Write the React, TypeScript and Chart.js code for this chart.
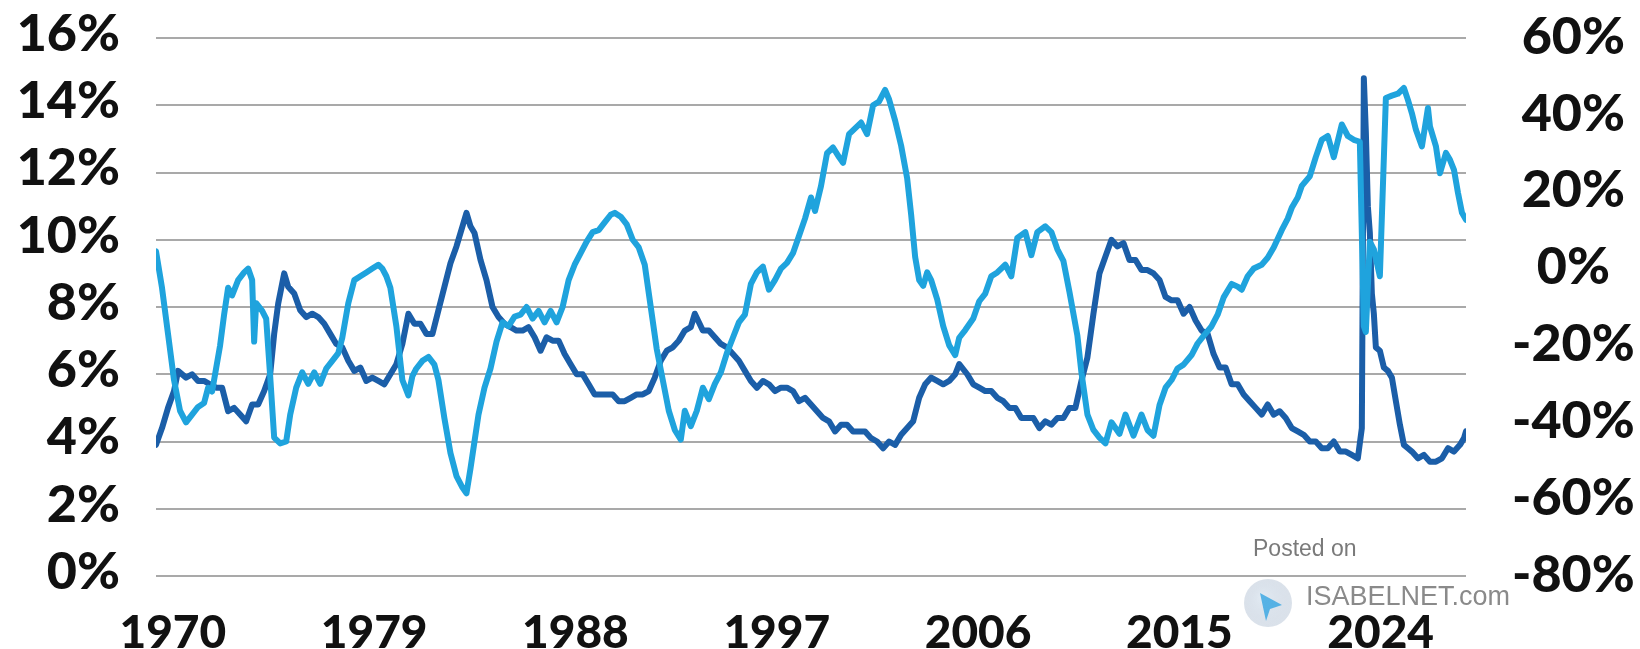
import { useEffect, useRef } from 'react';
import { Chart, registerables } from 'chart.js';

Chart.register(...registerables);

// US unemployment rate (left axis, %)
const UNEMP_DATES = [
  '1970-01','1970-04','1970-07','1970-10','1970-12','1971-04','1971-07','1971-10',
  '1972-01','1972-04','1972-07','1972-10','1973-01','1973-04','1973-07','1973-10',
  '1974-01','1974-04','1974-07','1974-10','1974-12','1975-02','1975-05','1975-07','1975-10',
  '1976-01','1976-04','1976-07','1976-10','1977-01','1977-04','1977-07','1977-10',
  '1978-01','1978-04','1978-07','1978-10','1979-01','1979-04','1979-07','1979-10',
  '1980-01','1980-04','1980-07','1980-10','1981-01','1981-04','1981-07','1981-10',
  '1982-01','1982-04','1982-07','1982-10','1982-12','1983-02','1983-04','1983-07','1983-10',
  '1984-01','1984-04','1984-07','1984-10','1985-01','1985-04','1985-07','1985-10',
  '1986-01','1986-04','1986-07','1986-10','1987-01','1987-04','1987-07','1987-10',
  '1988-01','1988-04','1988-07','1988-10','1989-01','1989-04','1989-07','1989-10',
  '1990-01','1990-04','1990-07','1990-10','1991-01','1991-04','1991-07','1991-10',
  '1992-01','1992-04','1992-06','1992-10','1993-01','1993-04','1993-07','1993-10',
  '1994-01','1994-04','1994-07','1994-10','1995-01','1995-04','1995-07','1995-10',
  '1996-01','1996-04','1996-07','1996-10','1997-01','1997-04','1997-07','1997-10',
  '1998-01','1998-04','1998-07','1998-10','1999-01','1999-04','1999-07','1999-10',
  '2000-01','2000-04','2000-07','2000-10','2001-01','2001-04','2001-07','2001-10',
  '2002-01','2002-04','2002-07','2002-10','2003-01','2003-04','2003-06','2003-10',
  '2004-01','2004-04','2004-07','2004-10','2005-01','2005-04','2005-07','2005-10',
  '2006-01','2006-04','2006-07','2006-10','2007-01','2007-04','2007-07','2007-10',
  '2008-01','2008-04','2008-07','2008-10','2009-01','2009-04','2009-07','2009-10',
  '2010-01','2010-04','2010-07','2010-10','2011-01','2011-04','2011-07','2011-10',
  '2012-01','2012-04','2012-07','2012-10','2013-01','2013-04','2013-07','2013-10',
  '2014-01','2014-04','2014-07','2014-10','2015-01','2015-04','2015-07','2015-10',
  '2016-01','2016-04','2016-07','2016-10','2017-01','2017-04','2017-07','2017-10',
  '2018-01','2018-04','2018-07','2018-10','2019-01','2019-04','2019-07','2019-10',
  '2020-01','2020-03','2020-04','2020-05','2020-06','2020-07','2020-08','2020-09','2020-10','2020-12',
  '2021-02','2021-04','2021-06','2021-08','2021-10','2021-12',
  '2022-02','2022-04','2022-07','2022-10','2023-01','2023-04','2023-07','2023-10',
  '2024-01','2024-04','2024-06','2024-07',
];
const UNEMP_VALUES = [
  3.9, 4.4, 5.0, 5.5, 6.1, 5.9, 6.0, 5.8,
  5.8, 5.7, 5.6, 5.6, 4.9, 5.0, 4.8, 4.6,
  5.1, 5.1, 5.5, 6.0, 7.2, 8.1, 9.0, 8.6, 8.4,
  7.9, 7.7, 7.8, 7.7, 7.5, 7.2, 6.9, 6.8,
  6.4, 6.1, 6.2, 5.8, 5.9, 5.8, 5.7, 6.0,
  6.3, 6.9, 7.8, 7.5, 7.5, 7.2, 7.2, 7.9,
  8.6, 9.3, 9.8, 10.4, 10.8, 10.4, 10.2, 9.4, 8.8,
  8.0, 7.7, 7.5, 7.4, 7.3, 7.3, 7.4, 7.1,
  6.7, 7.1, 7.0, 7.0, 6.6, 6.3, 6.0, 6.0,
  5.7, 5.4, 5.4, 5.4, 5.4, 5.2, 5.2, 5.3,
  5.4, 5.4, 5.5, 5.9, 6.4, 6.7, 6.8, 7.0,
  7.3, 7.4, 7.8, 7.3, 7.3, 7.1, 6.9, 6.8,
  6.6, 6.4, 6.1, 5.8, 5.6, 5.8, 5.7, 5.5,
  5.6, 5.6, 5.5, 5.2, 5.3, 5.1, 4.9, 4.7,
  4.6, 4.3, 4.5, 4.5, 4.3, 4.3, 4.3, 4.1,
  4.0, 3.8, 4.0, 3.9, 4.2, 4.4, 4.6, 5.3,
  5.7, 5.9, 5.8, 5.7, 5.8, 6.0, 6.3, 6.0,
  5.7, 5.6, 5.5, 5.5, 5.3, 5.2, 5.0, 5.0,
  4.7, 4.7, 4.7, 4.4, 4.6, 4.5, 4.7, 4.7,
  5.0, 5.0, 5.8, 6.5, 7.8, 9.0, 9.5, 10.0,
  9.8, 9.9, 9.4, 9.4, 9.1, 9.1, 9.0, 8.8,
  8.3, 8.2, 8.2, 7.8, 8.0, 7.6, 7.3, 7.2,
  6.6, 6.2, 6.2, 5.7, 5.7, 5.4, 5.2, 5.0,
  4.8, 5.1, 4.8, 4.9, 4.7, 4.4, 4.3, 4.2,
  4.0, 4.0, 3.8, 3.8, 4.0, 3.7, 3.7, 3.6,
  3.5, 4.4, 14.8, 13.2, 11.0, 10.2, 8.4, 7.8, 6.8, 6.7,
  6.2, 6.1, 5.9, 5.2, 4.5, 3.9,
  3.8, 3.7, 3.5, 3.6, 3.4, 3.4, 3.5, 3.8,
  3.7, 3.9, 4.1, 4.3,
];

// Labor differential: jobs plentiful minus jobs hard to get (right axis, %)
const LABOR_DATES = [
  '1970-01','1970-04','1970-07','1970-10','1971-01','1971-04','1971-07','1971-10',
  '1972-01','1972-03','1972-05','1972-07','1972-09','1972-11','1973-01','1973-03','1973-06','1973-09','1973-11',
  '1974-01','1974-02','1974-03','1974-06','1974-08','1974-10','1974-12','1975-03','1975-06','1975-08','1975-11',
  '1976-02','1976-05','1976-08','1976-11','1977-02','1977-05','1977-08','1977-10',
  '1978-01','1978-04','1978-07','1978-10','1979-01','1979-04','1979-06','1979-08','1979-10',
  '1980-01','1980-04','1980-07','1980-09','1980-11','1981-02','1981-05','1981-08','1981-10',
  '1982-01','1982-04','1982-07','1982-10','1982-12','1983-02','1983-04','1983-06','1983-09','1983-12',
  '1984-03','1984-06','1984-09','1984-12','1985-03','1985-06','1985-09','1985-12',
  '1986-03','1986-06','1986-09','1986-12','1987-03','1987-06','1987-09','1987-12',
  '1988-03','1988-06','1988-09','1988-12','1989-02','1989-05','1989-08','1989-11',
  '1990-02','1990-05','1990-08','1990-11','1991-02','1991-05','1991-08','1991-11',
  '1992-01','1992-04','1992-07','1992-10','1993-01','1993-04','1993-07','1993-10',
  '1994-01','1994-04','1994-07','1994-10','1995-01','1995-04','1995-07','1995-10',
  '1996-01','1996-04','1996-07','1996-10','1997-01','1997-04','1997-06','1997-09','1997-12',
  '1998-03','1998-06','1998-08','1998-11','1999-02','1999-05','1999-08','1999-11',
  '2000-02','2000-05','2000-07','2000-10','2001-01','2001-04','2001-06','2001-08','2001-10','2001-12',
  '2002-02','2002-04','2002-07','2002-10','2003-01','2003-04','2003-06','2003-09',
  '2004-01','2004-04','2004-07','2004-10','2005-01','2005-05','2005-08','2005-11',
  '2006-03','2006-06','2006-09','2007-01','2007-04','2007-07','2007-10',
  '2008-01','2008-05','2008-07','2008-10','2009-01','2009-04','2009-07','2009-10',
  '2010-02','2010-05','2010-09','2011-01','2011-04','2011-07','2011-10',
  '2012-01','2012-04','2012-07','2012-10','2013-02','2013-05','2013-08','2013-12',
  '2014-03','2014-06','2014-10','2015-01','2015-03','2015-06','2015-09',
  '2016-01','2016-04','2016-07','2016-11','2017-02','2017-04','2017-07','2017-09',
  '2018-01','2018-04','2018-07','2018-10','2019-01','2019-05','2019-08','2019-11',
  '2020-02','2020-04','2020-05','2020-07','2020-09','2020-12',
  '2021-03','2021-06','2021-09','2021-12','2022-02','2022-04','2022-06','2022-09','2022-12',
  '2023-01','2023-04','2023-06','2023-09','2023-11','2024-01','2024-03','2024-05','2024-07',
];
const LABOR_VALUES = [
  4.5, -5, -17, -29, -37, -40, -38, -36,
  -35, -31, -32, -26, -20, -12, -5, -7, -3, -1, 0,
  -3, -19, -9, -11, -13, -28, -44, -45.5, -45, -38, -31,
  -27, -30, -27, -30, -26, -24, -22, -18,
  -9, -3, -2, -1, 0, 1, 0, -2, -5,
  -15, -29, -33, -28, -26, -24, -23, -25, -29,
  -39, -48, -54, -57, -58.5, -52, -45, -38, -31, -26,
  -19, -14, -15, -12.5, -12, -10, -13, -11,
  -14, -11, -14, -10, -3, 1, 4, 7,
  9.5, 10, 12, 14, 14.5, 13.5, 11.5, 7.5,
  5.5, 1, -10, -21, -29, -37, -42, -44.5,
  -37, -41, -37, -31, -34, -30, -27, -22,
  -18, -14, -12, -4, -1, 0.5, -5.5, -3,
  0, 1.5, 4, 8.5, 13, 18.5, 15, 21.5, 30,
  31.5, 29, 27.5, 35, 36.5, 38, 35, 42.5,
  43.5, 46.5, 44, 38.5, 32, 23.5, 14, 3, -3, -4.5,
  -1, -3, -8, -15, -20, -22.5, -18, -16,
  -13, -8.5, -6.5, -2, -1, 1, -2, 8,
  9.5, 3.5, 9.5, 11, 9.5, 5, 2,
  -6, -17.5, -27, -38, -42, -44, -45.5, -40,
  -43, -38, -43.5, -38, -42, -43.5, -35.5,
  -31, -29, -26, -25, -22.5, -19.5, -17.5, -15,
  -12, -7.5, -4, -4.7, -5.5, -2, 0,
  1, 2.8, 5.5, 10, 13, 15.8, 18.5, 21.5,
  24, 29, 33.5, 34.5, 29, 37.5, 34.5, 33.5,
  33, -15, -16.5, 7, 5, -2,
  44.4, 45, 45.5, 47, 43.9, 40.4, 36.1, 31.8, 41.8,
  37, 31.8, 24.8, 30.1, 28.3, 25.7, 19.7, 14.5, 12.7,
];

const X_TICK_LABELS = ['1970', '1979', '1988', '1997', '2006', '2015', '2024'];
const X_TICK_START = 1970.7;
const X_TICK_STEP = 8.375;

const LEFT_MIN = 0;
const LEFT_MAX = 16;
const LEFT_STEP = 2;
const RIGHT_MIN = -80;
const RIGHT_MAX = 60;
const RIGHT_STEP = 20;

const toYear = (d: string) => {
  const [y, m] = d.split('-').map(Number);
  return y + (m - 1) / 12;
};

const Y_FONT = { family: 'Lato', size: 52, weight: '900' as const };
const X_FONT = { family: 'Lato', size: 46, weight: '900' as const };

const watermark = {
  id: 'watermark',
  beforeDraw(chart: Chart) {
    const ctx = chart.ctx;
    ctx.save();
    // globe logo
    const cx = 1268, cy = 603, r = 24;
    const g = ctx.createRadialGradient(cx - 6, cy - 6, 2, cx, cy, r);
    g.addColorStop(0, 'rgba(200,215,230,0.55)');
    g.addColorStop(1, 'rgba(150,170,195,0.35)');
    ctx.fillStyle = g;
    ctx.beginPath();
    ctx.arc(cx, cy, r, 0, Math.PI * 2);
    ctx.fill();
    ctx.fillStyle = 'rgba(40,160,225,0.75)';
    ctx.beginPath();
    ctx.moveTo(cx - 8, cy - 10);
    ctx.lineTo(cx + 14, cy + 2);
    ctx.lineTo(cx + 2, cy + 6);
    ctx.lineTo(cx - 2, cy + 18);
    ctx.closePath();
    ctx.fill();
    ctx.fillStyle = '#7a7a7a';
    ctx.textBaseline = 'middle';
    ctx.textAlign = 'left';
    ctx.font = '23px "Liberation Sans", Arial, sans-serif';
    ctx.fillText('Posted on', 1253, 550);
    ctx.fillStyle = '#8a8a8a';
    ctx.font = '27px "Liberation Sans", Arial, sans-serif';
    ctx.fillText('ISABELNET.com', 1306, 598);
    ctx.restore();
  },
};

export default function App() {
  const canvasRef = useRef<HTMLCanvasElement | null>(null);

  useEffect(() => {
    document.body.style.margin = '0';
    const canvas = canvasRef.current;
    if (!canvas) return;

    const unemp = UNEMP_DATES.map((d, i) => ({ x: toYear(d), y: UNEMP_VALUES[i] }));
    const labor = LABOR_DATES.map((d, i) => ({ x: toYear(d), y: LABOR_VALUES[i] }));

    const fitY = (width: number) => (axis: any) => {
      axis.width = width;
      axis.paddingTop = 0;
      axis.paddingBottom = 0;
    };

    const chart = new Chart(canvas, {
      type: 'line',
      data: {
        datasets: [
          {
            label: 'Labor differential',
            data: labor,
            yAxisID: 'y2',
            borderColor: '#1fa3dd',
            borderWidth: 6,
            pointRadius: 0,
            tension: 0,
            borderJoinStyle: 'round',
            borderCapStyle: 'round',
            order: 0,
          },
          {
            label: 'Unemployment rate',
            data: unemp,
            yAxisID: 'y',
            borderColor: '#1b5ea8',
            borderWidth: 6,
            pointRadius: 0,
            tension: 0,
            borderJoinStyle: 'round',
            borderCapStyle: 'round',
            order: 1,
          },
        ],
      },
      options: {
        responsive: false,
        animation: false,
        layout: { padding: { top: 38, left: 0, right: 0, bottom: 0 } },
        plugins: { legend: { display: false }, tooltip: { enabled: false } },
        scales: {
          x: {
            type: 'linear',
            min: toYear(UNEMP_DATES[0]),
            max: toYear(UNEMP_DATES[UNEMP_DATES.length - 1]),
            grid: { display: false, drawTicks: false },
            border: { display: false },
            afterBuildTicks: (axis: any) => {
              axis.ticks = X_TICK_LABELS.map((_, i) => ({ value: X_TICK_START + i * X_TICK_STEP }));
            },
            afterFit: (axis: any) => {
              axis.height = 73;
              axis.paddingLeft = 0;
              axis.paddingRight = 0;
            },
            ticks: {
              autoSkip: false,
              maxRotation: 0,
              padding: 30,
              color: '#111111',
              font: X_FONT,
              callback: (_v: any, i: number) => X_TICK_LABELS[i],
            },
          },
          y: {
            position: 'left',
            min: LEFT_MIN,
            max: LEFT_MAX,
            grid: { color: '#a9a9a9', lineWidth: 2, drawTicks: false },
            border: { display: false },
            afterFit: fitY(156),
            ticks: {
              stepSize: LEFT_STEP,
              padding: 36,
              labelOffset: -4,
              color: '#111111',
              font: Y_FONT,
              callback: (v: any) => `${v}%`,
            },
          },
          y2: {
            position: 'right',
            min: RIGHT_MIN,
            max: RIGHT_MAX,
            grid: { display: false, drawTicks: false },
            border: { display: false },
            afterFit: fitY(174),
            ticks: {
              stepSize: RIGHT_STEP,
              padding: 46,
              crossAlign: 'center',
              labelOffset: -1,
              color: '#111111',
              font: Y_FONT,
              callback: (v: any) => `${v}%`,
            },
          },
        },
      },
      plugins: [watermark],
    });

    return () => chart.destroy();
  }, []);

  return (
    <div style={{ position: 'absolute', left: 0, top: 0, width: 1640, height: 649, background: '#ffffff' }}>
      <canvas ref={canvasRef} width={1640} height={649} style={{ display: 'block' }} />
    </div>
  );
}
